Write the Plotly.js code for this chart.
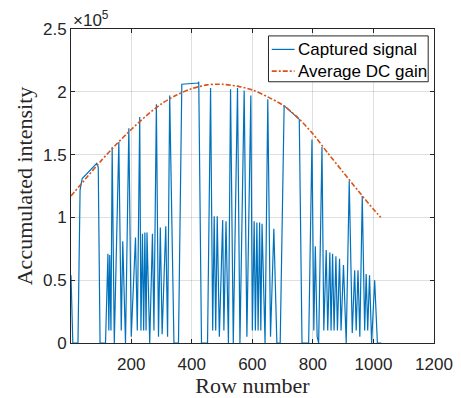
<!DOCTYPE html>
<html><head><meta charset="utf-8">
<script src="https://cdn.plot.ly/plotly-3.0.1.min.js"></script>
<style>html,body{margin:0;padding:0;background:#fff}</style>
</head><body><div id="chart" style="width:461px;height:398px"></div>
<script>
// Captured signal (values in units of 1e5)
const signalRows = [1,7,24,31,38,86,91,97,115,123,126,129,133,137,144,159,167,172,181,192,200,214,220,228,232,237,241,245,249,252,261,270,275,283,290,296,302,314,320,327,341,356,367,421,423,432,452,462,469,474,479,484,491,502,506,513,521,528,537,551,559,573,582,595,600,606,610,615,619,624,628,632,642,651,660,671,681,692,705,755,764,786,797,803,808,814,819,830,836,844,849,856,860,865,870,876,881,888,893,901,910,920,930,938,943,949,955,963,971,976,981,987,994,1004,1013,1026];
const signalValues = [0.54,0,0,1.22,1.31,1.43,1.40,0,0,0.71,0.10,0.70,0.10,1.56,0,1.60,0.10,0.81,0,1.71,0.05,0.84,0.10,1.80,0.10,0.87,0.10,0.88,0.10,0.88,0,0.87,0.10,1.90,0.05,0.92,0.07,0.93,0.05,1.97,0,0,2.06,2.07,2.08,0,0,2.03,0.10,1.01,0.10,1.01,0.05,0.98,0.10,0.97,0,2.02,0,2.03,0,2.01,0.05,1.97,0.10,0.97,0.10,0.96,0.10,0.96,0.10,0.95,0,1.94,0.05,0.91,0,0,1.89,1.78,0,0,1.62,0.10,0.77,0.05,0,1.56,0.10,0.74,0.10,0.72,0.10,0.71,0.10,0.69,0.10,0.67,0.10,0.62,0,1.29,0.08,0.58,0.10,0.58,0.05,1.17,0.10,0.55,0.10,0.54,0,0.50,0,0];
// Average DC gain (values in units of 1e5)
const gainRows = [1,50,100,150,200,250,300,350,400,450,480,500,550,600,650,700,750,800,850,900,950,1000,1024];
const gainValues = [1.17,1.31,1.45,1.58,1.70,1.81,1.905,1.975,2.025,2.055,2.06,2.06,2.045,2.015,1.96,1.895,1.795,1.665,1.51,1.36,1.21,1.065,1.00];
const xTickValues = [200,400,600,800,1000,1200];
const yTickValues = [0,0.5,1,1.5,2,2.5];
const yTickLabels = ['0','0.5','1','1.5','2','2.5'];
const seriesNames = ['Captured signal','Average DC gain'];
const seriesColors = ['#0072BD','#D95319'];
const gainDash = '5px,2px,2px,2px';

const axisColor = '#262626';
const gridColor = 'rgba(38,38,38,0.15)';
const sansFamily = 'Liberation Sans, Arial, sans-serif';
const tickFont = {family:sansFamily, size:17, color:axisColor};
const titleFont = {family:'Liberation Serif, Times New Roman, serif', size:22, color:axisColor};

const traces = [
  {x:signalRows, y:signalValues, type:'scatter', mode:'lines', name:seriesNames[0],
   line:{color:seriesColors[0], width:1.2}},
  {x:gainRows, y:gainValues, type:'scatter', mode:'lines', name:seriesNames[1],
   line:{color:seriesColors[1], width:1.6, dash:gainDash, shape:'spline', smoothing:0.8}}
];

// Legend drawn as a MATLAB-style box (paper coordinates of the plot area)
const lg = {x0:0.544, x1:0.984, y0:0.832, y1:0.978, lineX0:0.553, lineX1:0.616, textX:0.620, rows:[0.935,0.866]};

const shapes = [
  {type:'rect', xref:'paper', yref:'paper', x0:lg.x0, x1:lg.x1, y0:lg.y0, y1:lg.y1,
   line:{color:axisColor, width:1}, fillcolor:'#fff', layer:'above'},
  {type:'line', xref:'paper', yref:'paper', x0:lg.lineX0, x1:lg.lineX1, y0:lg.rows[0], y1:lg.rows[0],
   line:{color:seriesColors[0], width:1.2}, layer:'above'},
  {type:'line', xref:'paper', yref:'paper', x0:lg.lineX0, x1:lg.lineX1, y0:lg.rows[1], y1:lg.rows[1],
   line:{color:seriesColors[1], width:1.6, dash:gainDash}, layer:'above'}
];

const annotations = [
  {xref:'paper', yref:'paper', x:0, y:1, xanchor:'left', yanchor:'bottom',
   text:'×10<sup>5</sup>', showarrow:false, font:tickFont, yshift:-3},
  {xref:'paper', yref:'paper', x:lg.textX, y:lg.rows[0], xanchor:'left', yanchor:'middle',
   text:seriesNames[0], showarrow:false, font:{family:sansFamily, size:17, color:'#000'}},
  {xref:'paper', yref:'paper', x:lg.textX, y:lg.rows[1], xanchor:'left', yanchor:'middle',
   text:seriesNames[1], showarrow:false, font:{family:sansFamily, size:17, color:'#000'}}
];

const layout = {
  width:461, height:398,
  margin:{l:71, r:27, t:29, b:55},
  paper_bgcolor:'#fff', plot_bgcolor:'#fff',
  showlegend:false,
  xaxis:{range:[1,1200], tickmode:'array', tickvals:xTickValues,
         ticks:'inside', ticklen:4, tickcolor:axisColor, showline:true, linecolor:axisColor,
         linewidth:1, mirror:'ticks', showgrid:true, gridcolor:gridColor, zeroline:false,
         ticklabelstandoff:6,
         tickfont:tickFont, title:{text:'Row number', font:titleFont}},
  yaxis:{range:[0,2.5], tickmode:'array', tickvals:yTickValues, ticktext:yTickLabels,
         ticks:'inside', ticklen:4, tickcolor:axisColor, showline:true, linecolor:axisColor,
         linewidth:1, mirror:'ticks', showgrid:true, gridcolor:gridColor, zeroline:false,
         automargin:true,
         tickfont:tickFont, title:{text:'Accumulated intensity', font:titleFont, standoff:4}},
  shapes:shapes,
  annotations:annotations
};

Plotly.newPlot('chart', traces, layout, {staticPlot:true, displayModeBar:false});
</script>
</body></html>
